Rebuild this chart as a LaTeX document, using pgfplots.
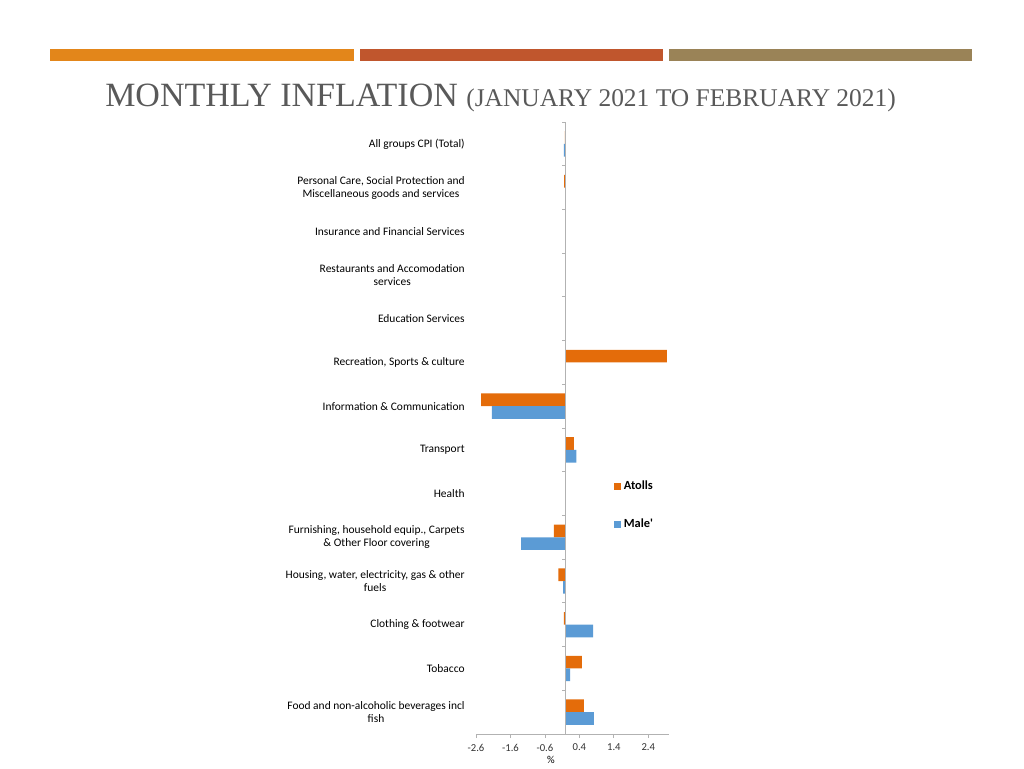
\documentclass[border=0pt]{standalone}
\usepackage{pgfplots}
\pgfplotsset{compat=1.18}
\usepackage{fontspec}
\setmainfont{Carlito}
\newfontfamily\titlefont{Liberation Serif}

\definecolor{atolls}{RGB}{228,108,10}
\definecolor{male}{RGB}{91,155,213}
\definecolor{band1}{RGB}{227,134,26}
\definecolor{band2}{RGB}{192,86,45}
\definecolor{band3}{RGB}{154,131,87}
\definecolor{titlegray}{RGB}{89,89,89}

% value, category (0 = Food ... 13 = All groups)
\pgfplotstableread{
x y
0.53 0
0.47 1
-0.05 2
-0.21 3
-0.34 4
0 5
0.24 6
-2.45 7
2.94 8
0 9
0 10
0 11
-0.04 12
-0.02 13
}\atollsdata

\pgfplotstableread{
x y
0.82 0
0.13 1
0.80 2
-0.07 3
-1.29 4
0 5
0.31 6
-2.14 7
0 8
0 9
0 10
0 11
-0.01 12
-0.05 13
}\maledata

\begin{document}
\begin{tikzpicture}
\path (0pt,0pt) rectangle (768pt,576pt);
% header, in pixel units (y down from top)
\begin{scope}[x=0.75pt, y=-0.75pt, shift={(0pt,576pt)}]
\fill[band1] (50,49) rectangle (354,61);
\fill[band2] (360,49) rectangle (663,61);
\fill[band3] (669,49) rectangle (972,61);
\node[anchor=base west, inner sep=0, text=titlegray,
      font=\titlefont\fontsize{25.5}{27}\selectfont] at (105,107) {MONTHLY INFLATION};
\node[anchor=base west, inner sep=0, text=titlegray,
      font=\titlefont\fontsize{19.1}{20}\selectfont] at (466,107) {(JANUARY 2021 TO FEBRUARY 2021)};
\node[inner sep=0, font=\fontsize{8}{9}\selectfont] at (551,760) {\%};
\end{scope}

\begin{axis}[
    at={(357pt,25.5pt)}, anchor=south west,
    scale only axis, width=144.75pt, height=459pt,
    xbar, bar width=9.5pt,
    xmin=-2.6, xmax=3.0, ymin=-0.5, ymax=13.5,
    axis x line*=bottom, axis y line*=left,
    y axis line style={draw=none},
    x axis line style={gray!60, line width=0.6pt},
    xtick={-2.6,-1.6,-0.6,0.4,1.4,2.4},
    xticklabels={-2.6,-1.6,-0.6,0.4,1.4,2.4},
    xtick style={gray!60, line width=0.6pt},
    tick align=outside, major tick length=3pt,
    xticklabel style={font=\fontsize{8}{9}\selectfont, text=black!80, yshift=-1pt},
    ytick={0,...,13},
    ytick style={draw=none},
    yticklabels={
      {Food and non-alcoholic beverages incl\\fish},
      Tobacco,
      {Clothing \& footwear},
      {Housing, water, electricity, gas \& other\\fuels},
      {Furnishing, household equip., Carpets\\\& Other Floor covering},
      Health,
      Transport,
      {Information \& Communication},
      {Recreation, Sports \& culture},
      Education Services,
      Restaurants and Accomodation\\services,
      Insurance and Financial Services,
      {Personal Care, Social Protection and\\Miscellaneous goods and services},
      {All groups CPI (Total)}},
    yticklabel style={align=center, font=\fontsize{8.6}{9.8}\selectfont, xshift=-2pt},
    legend style={draw=none, fill=none, at={(0.715,0.418)}, anchor=north west,
                  inner sep=0pt, row sep=16.5pt,
                  font=\bfseries\fontsize{9.3}{10}\selectfont},
    legend cell align=left,
    legend image code/.code={\fill[#1] (0pt,-2.6pt) rectangle (5.2pt,2.6pt);},
]
\addplot[fill=atolls, draw=none, bar shift=4.75pt] table[x=x, y=y] {\atollsdata};
\addplot[fill=male, draw=none, bar shift=-4.75pt] table[x=x, y=y] {\maledata};
\legend{Atolls, Male\textquotesingle}
\draw[gray!60, line width=0.6pt] (axis cs:0,-0.5) -- (axis cs:0,13.5);
\pgfplotsinvokeforeach{-0.5,0.5,...,13.5}{
  \draw[gray!60, line width=0.6pt] (axis cs:0,#1) -- ++(-3pt,0pt);
}
\end{axis}
\end{tikzpicture}
\end{document}
